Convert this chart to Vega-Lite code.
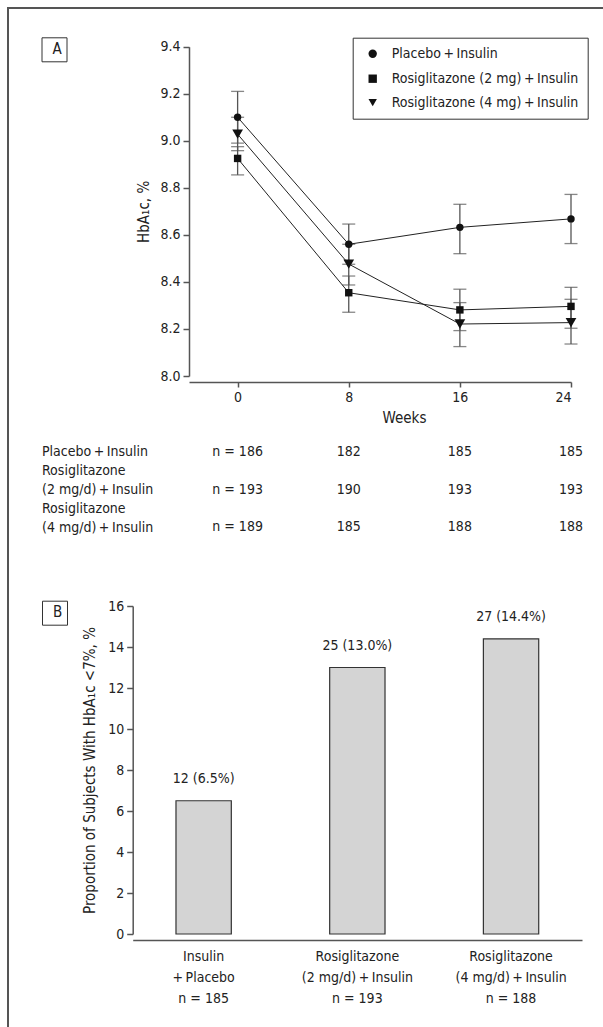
{
  "$schema": "https://vega.github.io/schema/vega-lite/v6.json",
  "width": 601,
  "height": 1025,
  "autosize": {"type": "none"},
  "padding": {"left": 8, "top": 8, "right": -6, "bottom": -6},
  "background": "white",
  "view": {"stroke": "#555", "strokeWidth": 2},
  "config": {
    "font": "DejaVu Sans Condensed, DejaVu Sans, sans-serif",
    "axis": {"labelFontSize": 14, "titleFontSize": 15, "titleFontWeight": "normal", "labelColor": "#222", "titleColor": "#222", "domainColor": "#555", "domainWidth": 1.5, "tickColor": "#555", "tickWidth": 1.5, "grid": false},
    "legend": {"labelFontSize": 14, "labelColor": "#222", "labelLimit": 400},
    "text": {"fontSize": 14, "color": "#222"}
  },
  "datasets": {
    "hba": [
      {"week": 0, "group": "Placebo\u2009+\u2009Insulin", "mean": 9.10, "lo": 8.99, "hi": 9.21},
      {"week": 8, "group": "Placebo\u2009+\u2009Insulin", "mean": 8.56, "lo": 8.475, "hi": 8.646},
      {"week": 16, "group": "Placebo\u2009+\u2009Insulin", "mean": 8.632, "lo": 8.52, "hi": 8.73},
      {"week": 24, "group": "Placebo\u2009+\u2009Insulin", "mean": 8.668, "lo": 8.563, "hi": 8.772},
      {"week": 0, "group": "Rosiglitazone (2 mg)\u2009+\u2009Insulin", "mean": 8.925, "lo": 8.855, "hi": 8.975},
      {"week": 8, "group": "Rosiglitazone (2 mg)\u2009+\u2009Insulin", "mean": 8.354, "lo": 8.271, "hi": 8.425},
      {"week": 16, "group": "Rosiglitazone (2 mg)\u2009+\u2009Insulin", "mean": 8.281, "lo": 8.193, "hi": 8.369},
      {"week": 24, "group": "Rosiglitazone (2 mg)\u2009+\u2009Insulin", "mean": 8.296, "lo": 8.203, "hi": 8.377},
      {"week": 0, "group": "Rosiglitazone (4 mg)\u2009+\u2009Insulin", "mean": 9.028, "lo": 8.958, "hi": 9.10},
      {"week": 8, "group": "Rosiglitazone (4 mg)\u2009+\u2009Insulin", "mean": 8.476, "lo": 8.387, "hi": 8.56},
      {"week": 16, "group": "Rosiglitazone (4 mg)\u2009+\u2009Insulin", "mean": 8.221, "lo": 8.125, "hi": 8.312},
      {"week": 24, "group": "Rosiglitazone (4 mg)\u2009+\u2009Insulin", "mean": 8.227, "lo": 8.136, "hi": 8.326}
    ],
    "ntab": [
      {"line": 1, "week": 0, "text": "n = 186"},
      {"line": 1, "week": 8, "text": "182"},
      {"line": 1, "week": 16, "text": "185"},
      {"line": 1, "week": 24, "text": "185"},
      {"line": 3, "week": 0, "text": "n = 193"},
      {"line": 3, "week": 8, "text": "190"},
      {"line": 3, "week": 16, "text": "193"},
      {"line": 3, "week": 24, "text": "193"},
      {"line": 5, "week": 0, "text": "n = 189"},
      {"line": 5, "week": 8, "text": "185"},
      {"line": 5, "week": 16, "text": "188"},
      {"line": 5, "week": 24, "text": "188"}
    ],
    "prop": [
      {"cat": "Insulin|+\u2009Placebo|n = 185", "pct": 6.5, "label": "12 (6.5%)"},
      {"cat": "Rosiglitazone|(2 mg/d)\u2009+\u2009Insulin|n = 193", "pct": 13.0, "label": "25 (13.0%)"},
      {"cat": "Rosiglitazone|(4 mg/d)\u2009+\u2009Insulin|n = 188", "pct": 14.4, "label": "27 (14.4%)"}
    ]
  },
  "layer": [
    {
      "data": {"name": "hba"},
      "layer": [
        {
          "mark": {"type": "rule", "color": "#555", "strokeWidth": 1.3},
          "encoding": {
            "x": {"field": "week", "type": "quantitative", "scale": {"domain": [-3.5, 24], "range": [181, 563], "nice": false, "zero": false},
              "axis": {"orient": "bottom", "offset": -651, "values": [0, 8, 16, 24], "format": "d", "tickSize": 5, "labelPadding": 3, "title": "Weeks", "titlePadding": 6, "titleX": 396}},
            "y": {"field": "lo", "type": "quantitative", "scale": {"domain": [8, 9.4], "range": [368, 38.7], "nice": false, "zero": false},
              "axis": {"orient": "left", "offset": -181, "values": [8, 8.2, 8.4, 8.6, 8.8, 9, 9.2, 9.4], "format": ".1f", "tickSize": 6, "labelPadding": 3, "title": "HbA\u2081c, %", "titlePadding": 8}},
            "y2": {"field": "hi"},
            "opacity": {"datum": "A", "type": "ordinal", "scale": {"range": [1]},
              "legend": {"orient": "none", "legendX": 33.5, "legendY": 29.3, "title": null, "symbolType": "circle", "symbolSize": 0, "symbolOpacity": 0, "symbolStrokeWidth": 0, "labelOffset": -8, "padding": 4, "strokeColor": "#333", "labelFontSize": 15, "labelExpr": "'\u2004' + datum.label + '\u2004'"}}
          }
        },
        {
          "mark": {"type": "tick", "orient": "horizontal", "size": 13, "thickness": 1.3, "color": "#555"},
          "encoding": {
            "x": {"field": "week", "type": "quantitative"},
            "y": {"field": "lo", "type": "quantitative"}
          }
        },
        {
          "mark": {"type": "tick", "orient": "horizontal", "size": 13, "thickness": 1.3, "color": "#555"},
          "encoding": {
            "x": {"field": "week", "type": "quantitative"},
            "y": {"field": "hi", "type": "quantitative"}
          }
        },
        {
          "mark": {"type": "line", "color": "#222", "strokeWidth": 1},
          "encoding": {
            "x": {"field": "week", "type": "quantitative"},
            "y": {"field": "mean", "type": "quantitative"},
            "detail": {"field": "group"}
          }
        },
        {
          "mark": {"type": "point", "filled": true, "color": "#111", "opacity": 1},
          "encoding": {
            "x": {"field": "week", "type": "quantitative"},
            "y": {"field": "mean", "type": "quantitative"},
            "shape": {"field": "group", "type": "nominal",
              "scale": {"domain": ["Placebo\u2009+\u2009Insulin", "Rosiglitazone (2 mg)\u2009+\u2009Insulin", "Rosiglitazone (4 mg)\u2009+\u2009Insulin"], "range": ["circle", "square", "triangle-down"]},
              "legend": {"orient": "none", "legendX": 344.7, "legendY": 29.7, "title": null, "strokeColor": "#333", "padding": 9, "rowPadding": 9, "labelFontSize": 14, "labelLimit": 400, "symbolSize": 70, "symbolFillColor": "#111", "symbolStrokeColor": "#111", "labelOffset": 12, "symbolOffset": 4}},
            "size": {"condition": {"test": "indexof(datum.group, '4 mg') >= 0", "value": 115}, "value": 55}
          }
        }
      ]
    },
    {
      "data": {"name": "ntab"},
      "mark": {"type": "text", "align": "center", "baseline": "middle", "fontSize": 14, "color": "#222"},
      "encoding": {
        "x": {"field": "week", "type": "quantitative", "scale": {"domain": [-3.5, 24], "range": [181, 563], "nice": false, "zero": false}, "axis": null},
        "y": {"field": "line", "type": "ordinal", "scale": {"type": "point", "domain": [1, 2, 3, 4, 5], "range": [443.7, 519.3], "padding": 0},
          "axis": {"orient": "left", "offset": -33.5, "domain": false, "ticks": false, "tickSize": 0, "labelPadding": 0, "labelAlign": "left", "labelBaseline": "middle", "title": null, "labelLimit": 300,
            "labelExpr": "['Placebo\u2009+\u2009Insulin', 'Rosiglitazone', '(2 mg/d)\u2009+\u2009Insulin', 'Rosiglitazone', '(4 mg/d)\u2009+\u2009Insulin'][datum.value - 1]"}},
        "text": {"field": "text"}
      }
    },
    {
      "data": {"name": "prop"},
      "layer": [
        {
          "mark": {"type": "bar", "fill": "#d4d4d4", "stroke": "#333", "strokeWidth": 1.2},
          "encoding": {
            "x": {"field": "cat", "type": "nominal", "sort": null,
              "scale": {"range": [124.7, 574], "paddingInner": 0.64, "paddingOuter": 0.2816},
              "axis": {"orient": "bottom", "offset": -93, "ticks": false, "tickSize": 0, "labelPadding": 9, "labelExpr": "split(datum.label, '|')", "labelLineHeight": 21, "title": null, "labelAngle": 0, "labelAlign": "center", "labelBaseline": "top", "labelLimit": 300}},
            "y": {"field": "pct", "type": "quantitative", "scale": {"domain": [0, 16], "range": [926, 598], "nice": false, "zero": false},
              "axis": {"orient": "left", "offset": -124.7, "values": [0, 2, 4, 6, 8, 10, 12, 14, 16], "format": "d", "tickSize": 6, "labelPadding": 3, "title": "Proportion of Subjects With HbA\u2081c <7%, %", "titlePadding": 10}},
            "opacity": {"datum": "B", "type": "ordinal", "scale": {"range": [1]},
              "legend": {"orient": "none", "legendX": 34, "legendY": 592.7, "title": null, "symbolType": "circle", "symbolSize": 0, "symbolOpacity": 0, "symbolStrokeWidth": 0, "labelOffset": -8, "padding": 4, "strokeColor": "#333", "labelFontSize": 15, "labelExpr": "'\u2004' + datum.label + '\u2004'"}}
          }
        },
        {
          "mark": {"type": "text", "dy": -21.5, "baseline": "middle", "fontSize": 14, "color": "#222"},
          "encoding": {
            "x": {"field": "cat", "type": "nominal", "sort": null},
            "y": {"field": "pct", "type": "quantitative"},
            "text": {"field": "label"}
          }
        }
      ]
    }
  ],
  "resolve": {
    "scale": {"x": "independent", "y": "independent", "shape": "independent", "opacity": "independent"},
    "axis": {"x": "independent", "y": "independent"},
    "legend": {"shape": "independent", "opacity": "independent"}
  }
}
